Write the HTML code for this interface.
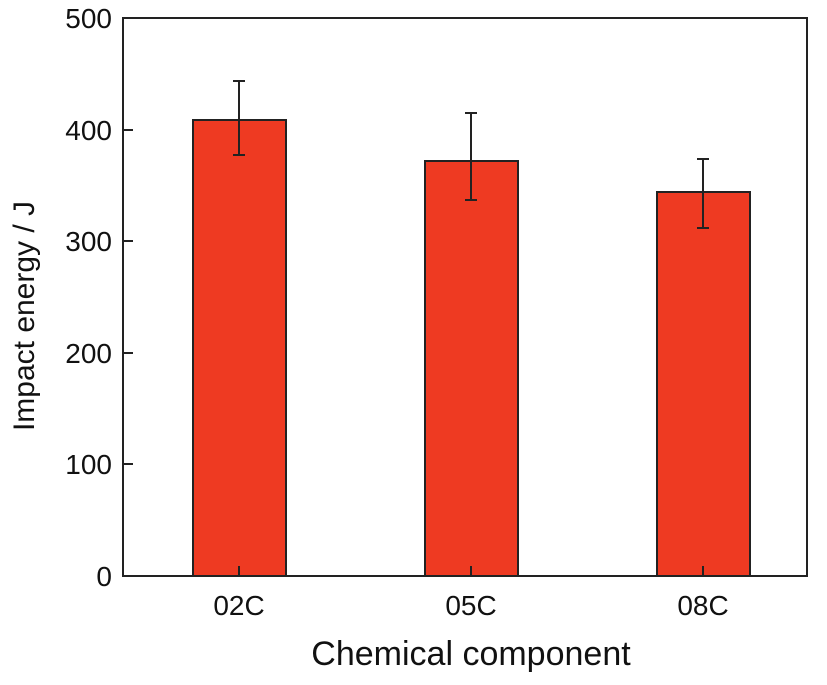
<!DOCTYPE html><html><head><style>body{margin:0;background:#fff}</style></head><body>
<svg width="827" height="680" viewBox="0 0 827 680" xmlns="http://www.w3.org/2000/svg" font-family="Liberation Sans, Arial, sans-serif">
<g fill="#EE3A22" stroke="#222" stroke-width="2">
<rect x="193" y="120" width="93" height="456"/>
<rect x="425" y="161" width="93" height="415"/>
<rect x="657" y="192" width="93" height="384"/>
</g>
<g stroke="#222" stroke-width="2" fill="none">
<rect x="123" y="18" width="684" height="558"/>
<line x1="123" y1="130" x2="133" y2="130"/><line x1="123" y1="241" x2="133" y2="241"/><line x1="123" y1="353" x2="133" y2="353"/><line x1="123" y1="464" x2="133" y2="464"/>
<line x1="239" y1="576" x2="239" y2="566"/><line x1="471" y1="576" x2="471" y2="566"/><line x1="703" y1="576" x2="703" y2="566"/>
<line x1="239" y1="81" x2="239" y2="155"/><line x1="233" y1="81" x2="245" y2="81"/><line x1="233" y1="155" x2="245" y2="155"/>
<line x1="471" y1="113" x2="471" y2="200"/><line x1="465" y1="113" x2="477" y2="113"/><line x1="465" y1="200" x2="477" y2="200"/>
<line x1="703" y1="159" x2="703" y2="228"/><line x1="697" y1="159" x2="709" y2="159"/><line x1="697" y1="228" x2="709" y2="228"/>
</g>
<g font-size="28" fill="#111" text-anchor="end">
<text x="112" y="28">500</text><text x="112" y="140">400</text><text x="112" y="251">300</text><text x="112" y="363">200</text><text x="112" y="474">100</text><text x="112" y="586">0</text>
</g>
<g font-size="28" fill="#111" text-anchor="middle">
<text x="239" y="615">02C</text><text x="471" y="615">05C</text><text x="703" y="615">08C</text>
<text x="471" y="665" font-size="34">Chemical component</text>
<text transform="translate(34,316) rotate(-90)" font-size="30">Impact energy / J</text>
</g>
</svg></body></html>
